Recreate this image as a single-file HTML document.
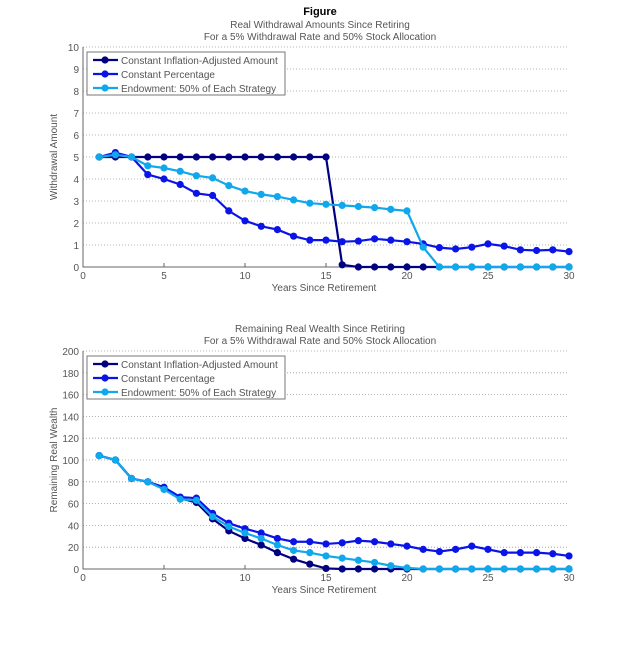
<!DOCTYPE html>
<html><head><meta charset="utf-8"><style>
body{margin:0;background:#fff;width:628px;height:640px;overflow:hidden;font-family:"Liberation Sans",sans-serif}
svg text{font-family:"Liberation Sans",sans-serif;fill:#555}
</style></head><body>
<svg id="svg" width="628" height="640" xmlns="http://www.w3.org/2000/svg">
<text x="320" y="15" text-anchor="middle" font-size="11" font-weight="bold" style="fill:#000">Figure</text>
</svg>
<script>
const years=[1,2,3,4,5,6,7,8,9,10,11,12,13,14,15,16,17,18,19,20,21,22,23,24,25,26,27,28,29,30];
const wdCIA=[5,5,5,5,5,5,5,5,5,5,5,5,5,5,5,0.1,0,0,0,0,0,0,0,0,0,0,0,0,0,0];
const wdCP=[5,5.2,5.0,4.2,4.0,3.75,3.35,3.25,2.55,2.1,1.85,1.7,1.4,1.22,1.22,1.15,1.18,1.28,1.22,1.15,1.05,0.88,0.82,0.9,1.05,0.95,0.78,0.75,0.78,0.7];
const wdEnd=[5,5.1,5.0,4.6,4.5,4.35,4.15,4.05,3.7,3.45,3.3,3.2,3.05,2.9,2.85,2.8,2.75,2.7,2.62,2.55,0.9,0,0,0,0,0,0,0,0,0];
const wlCIA=[104,100,83,80,74,65,61,46,35,28,22,15,9,4.5,0.5,0,0,0,0,0,0,0,0,0,0,0,0,0,0,0];
const wlCP=[104,100,83,80,75,66,65,51,42,37,33,28,25,25,23,24,26,25,23,21,18,16,18,21,18,15,15,15,14,12];
const wlEnd=[104,100,83,80,73,64,63,48,39,33,28,22,17,15,12,10,8,6,3,1,0,0,0,0,0,0,0,0,0,0];
const xTicks=[0,5,10,15,20,25,30];
const yTicksTop=[0,1,2,3,4,5,6,7,8,9,10];
const yTicksBot=[0,20,40,60,80,100,120,140,160,180,200];
const legendLabels=["Constant Inflation-Adjusted Amount","Constant Percentage","Endowment: 50% of Each Strategy"];
const colors=["#000080","#0a14e6","#10a8ec"];
const svg=document.getElementById('svg');
const NS='http://www.w3.org/2000/svg';
function mk(tag,attrs,parent){const e=document.createElementNS(NS,tag);for(const k in attrs)e.setAttribute(k,attrs[k]);(parent||svg).appendChild(e);return e;}
function chart(id,top,bot,ymax,yTicks,titles,yTitle,series){
  const x0=83,x1=569;
  const g=mk('g',{});
  
  
  const X=v=>x0+(x1-x0)*v/30, Y=v=>bot-(bot-top)*v/ymax;
  titles.forEach((t,i)=>{const e=mk('text',{x:320,y:top-19+i*12,'text-anchor':'middle','font-size':10},g);e.textContent=t;
    });
  yTicks.forEach(v=>{
    if(v>0){const l=mk('line',{x1:x0,x2:x1,y1:Y(v),y2:Y(v),stroke:'#999','stroke-dasharray':'1,2','stroke-width':0.8},g);
      }
    const t=mk('text',{x:x0-4,y:Y(v)+4,'text-anchor':'end','font-size':10},g);t.textContent=v;
    
  });
  xTicks.forEach(v=>{const t=mk('text',{x:X(v),y:bot+12,'text-anchor':'middle','font-size':10},g);t.textContent=v;
    
    mk('line',{x1:X(v),x2:X(v),y1:bot,y2:bot-4,stroke:'#666'},g);});
  const ax=mk('path',{d:`M${x0},${top}V${bot}H${x1}`,fill:'none',stroke:'#666','stroke-width':1},g);
  
  const xt=mk('text',{x:324,y:bot+24,'text-anchor':'middle','font-size':10},g);xt.textContent='Years Since Retirement';
  
  const yt=mk('text',{x:0,y:0,'text-anchor':'middle','font-size':10,transform:`translate(${x0-26},${(top+bot)/2}) rotate(-90)`},g);yt.textContent=yTitle;
  
  series.forEach((s,i)=>{
    const p=mk('polyline',{points:years.map((yr,j)=>X(yr)+','+Y(s[j])).join(' '),fill:'none',stroke:colors[i],'stroke-width':2.2},g);
    
    years.forEach((yr,j)=>{const c=mk('circle',{cx:X(yr),cy:Y(s[j]),r:3.6,fill:colors[i]},g);
      });
  });
  const lg=mk('g',{},g);
  
  mk('rect',{x:87,y:top+5,width:198,height:43,fill:'#fff',stroke:'#777'},lg);
  legendLabels.forEach((l,i)=>{const yy=top+13+i*14;
    mk('line',{x1:93,x2:118,y1:yy,y2:yy,stroke:colors[i],'stroke-width':2.2},lg);
    mk('circle',{cx:105,cy:yy,r:3.6,fill:colors[i]},lg);
    const t=mk('text',{x:121,y:yy+4,'font-size':10},lg);t.textContent=l;
    });
}
chart('withdrawal',47,267,10,yTicksTop,['Real Withdrawal Amounts Since Retiring','For a 5% Withdrawal Rate and 50% Stock Allocation'],'Withdrawal Amount',[wdCIA,wdCP,wdEnd]);
chart('wealth',351,569,200,yTicksBot,['Remaining Real Wealth Since Retiring','For a 5% Withdrawal Rate and 50% Stock Allocation'],'Remaining Real Wealth',[wlCIA,wlCP,wlEnd]);
</script>
</body></html>
